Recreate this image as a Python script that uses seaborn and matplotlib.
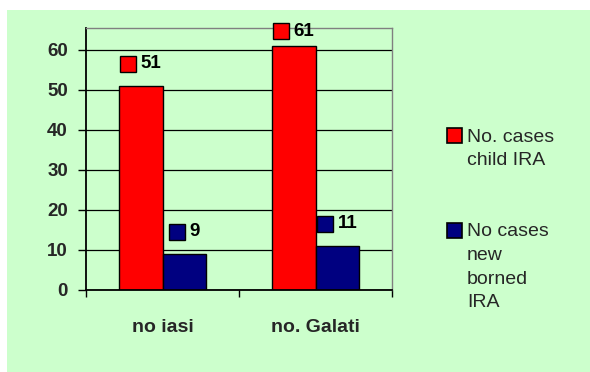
import matplotlib
matplotlib.use("Agg")
import matplotlib.pyplot as plt
from matplotlib.patches import Rectangle
from matplotlib.offsetbox import AnnotationBbox, DrawingArea, HPacker, TextArea
import pandas as pd
import seaborn as sns

# ── data ──────────────────────────────────────────────────────────────────────
regions = ["no iasi", "no. Galati"]
series = ["No. cases\nchild IRA", "No cases\nnew\nborned\nIRA"]
child_ira = [51, 61]
newborn_ira = [9, 11]
yticks = [0, 10, 20, 30, 40, 50, 60]

COLORS = ["#FF0000", "#000080"]
PANEL = "#CCFFCC"
W, H = 590, 372

sns.set_style("white")
plt.rcParams.update({
    "font.family": ["Liberation Sans", "DejaVu Sans"],
    "font.size": 13,
})

df = pd.DataFrame({
    "region": regions * 2,
    "series": [series[0]] * 2 + [series[1]] * 2,
    "cases": child_ira + newborn_ira,
})

fig = plt.figure(figsize=(W / 100, H / 100), dpi=100, facecolor="white")
# green chart area (white margin top/left like the original export)
fig.add_artist(Rectangle((7 / W, 0), 1 - 7 / W, 1 - 10 / H,
                         transform=fig.transFigure, facecolor=PANEL,
                         edgecolor="none", zorder=-1))

ax = fig.add_axes([86 / W, (H - 290) / H, 306 / W, 262 / H])
ax.set_facecolor("none")

sns.barplot(data=df, x="region", y="cases", hue="series", hue_order=series,
            order=regions, palette=COLORS, width=0.57, edgecolor="black",
            linewidth=1, saturation=1, legend=False, ax=ax)

ax.set_ylim(0, 65.5)
ax.set_xlim(-0.5, 1.5)
ax.set_yticks(yticks)
ax.set_axisbelow(True)
ax.yaxis.grid(True, color="black", linewidth=0.9)
ax.xaxis.grid(False)
ax.set_xlabel("")
ax.set_ylabel("")

for s in ("top", "right"):
    ax.spines[s].set_visible(True)
    ax.spines[s].set_color("#808080")
    ax.spines[s].set_linewidth(1)
ax.spines["left"].set_color("black")
ax.spines["left"].set_linewidth(1.3)
ax.spines["bottom"].set_color("black")
ax.spines["bottom"].set_linewidth(1.3)

ax.tick_params(axis="y", which="major", direction="out", length=6, width=1,
               color="black", pad=7, left=True, labelsize=13.5)
ax.tick_params(axis="x", which="major", length=0, pad=21, labelsize=14)
ax.set_xticks([-0.5, 0.5, 1.5], minor=True)
ax.tick_params(axis="x", which="minor", direction="out", length=5, width=1,
               color="black", bottom=True)
for lab in ax.get_yticklabels() + ax.get_xticklabels():
    lab.set_fontweight("bold")

# value labels: small coloured key square + bold number, centred over bar
for container, color in zip(ax.containers, COLORS):
    for bar in container:
        h = bar.get_height()
        cx = bar.get_x() + bar.get_width() / 2
        y = min(h + 5.5, 64.75)
        da = DrawingArea(11.5, 11, 0, 0)
        da.add_artist(Rectangle((0, 0), 11.5, 11, facecolor=color,
                                edgecolor="black", linewidth=1))
        ta = TextArea(f"{h:g}", textprops=dict(fontsize=13.5, fontweight="bold",
                                                color="black"))
        box = HPacker(children=[da, ta], align="center", pad=0, sep=3)
        ab = AnnotationBbox(box, (cx, y), xycoords="data", frameon=False,
                            box_alignment=(0.5, 0.5), pad=0,
                            annotation_clip=False)
        ax.add_artist(ab)

# legend drawn by hand so the key sits beside the first label line
for label, color, top in zip(series, COLORS, [128, 223]):
    fig.add_artist(Rectangle((447 / W, 1 - (top + 15) / H), 15 / W, 15 / H,
                             transform=fig.transFigure, facecolor=color,
                             edgecolor="black", linewidth=1.2))
    fig.text(467 / W, 1 - (top + 0.5) / H, label, ha="left", va="top",
             fontsize=14, linespacing=1.5)

fig.savefig("out.png", dpi=100, facecolor="white")
